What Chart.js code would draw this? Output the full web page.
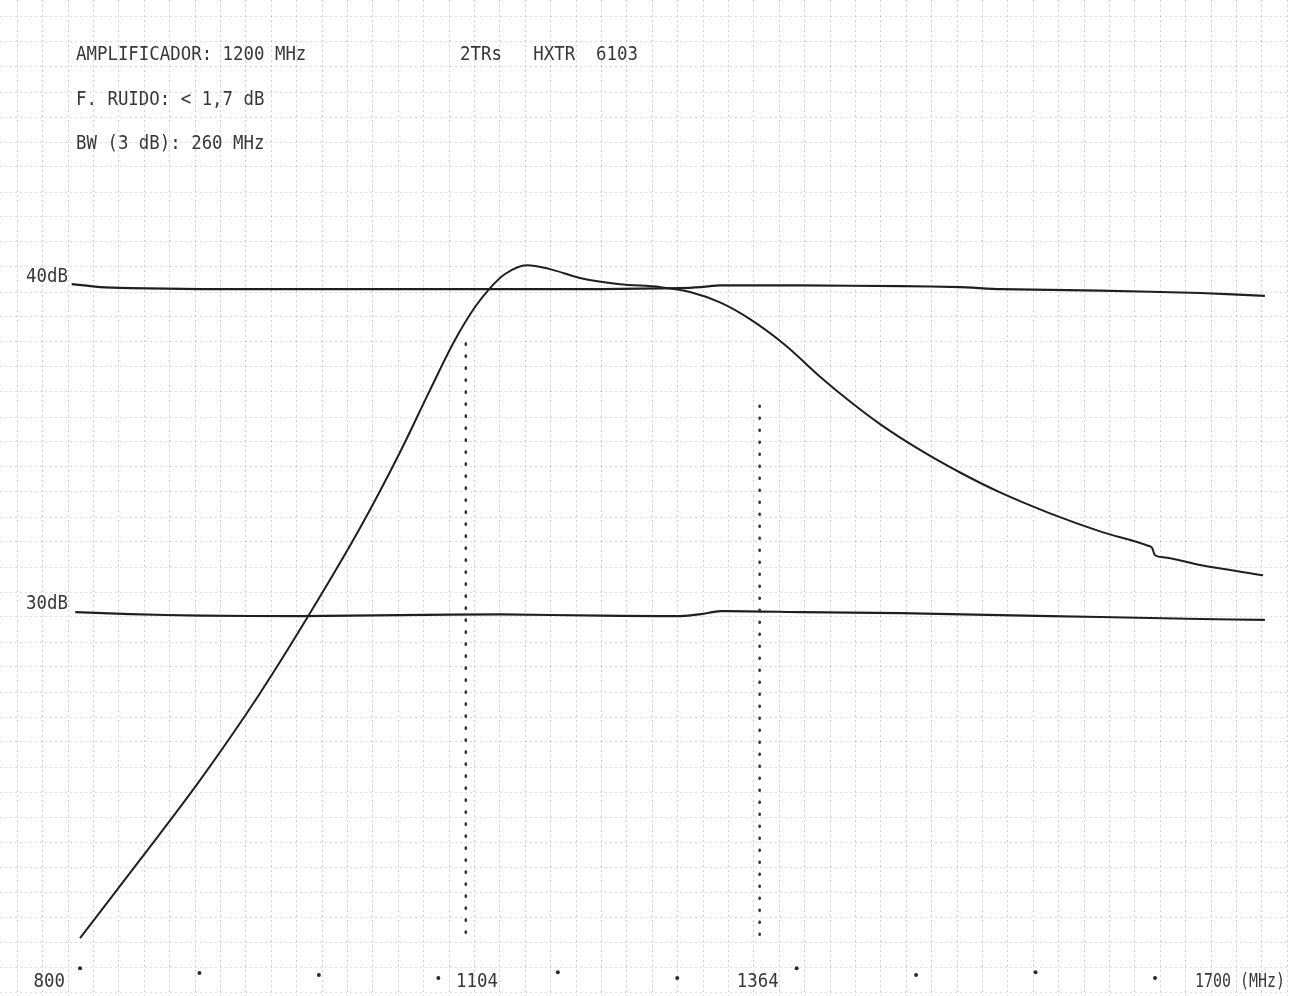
<!DOCTYPE html>
<html>
<head>
<meta charset="utf-8">
<title>Amplificador 1200 MHz</title>
<script src="https://cdn.jsdelivr.net/npm/chart.js@4.4.1/dist/chart.umd.min.js"></script>
<style>
  html, body { margin: 0; padding: 0; background: #fff; }
  canvas { display: block; }
</style>
</head>
<body>
<canvas id="response" width="1289" height="996"></canvas>
<script>
// gain curve of the amplifier (MHz, dB)
const responseMHz = [800, 850.2, 900.5, 950.7, 992.6, 1034.4, 1067.9, 1093, 1113.9, 1130.7, 1143.3, 1155.8, 1174.2, 1193.5, 1218.6, 1252.1, 1285.6, 1310.7, 1335.8, 1360.9, 1390.3, 1419.6, 1444.7, 1469.8, 1503.3, 1536.8, 1570.3, 1612.1, 1654, 1694.2, 1697.5, 1700, 1708.4, 1737.7, 1790.5];
const responseDb = [20.12, 22.51, 24.95, 27.61, 30.06, 32.66, 34.98, 36.88, 38.41, 39.42, 40.0, 40.43, 40.7, 40.58, 40.31, 40.12, 40.03, 39.88, 39.56, 39.05, 38.26, 37.29, 36.53, 35.84, 35.05, 34.36, 33.75, 33.11, 32.56, 32.12, 32.06, 31.83, 31.76, 31.53, 31.22];

// calibration traces at 40 dB and 30 dB
const ref40MHz = [793, 817, 842, 901, 985, 1068, 1152, 1236, 1303, 1320, 1336, 1403, 1487, 1537, 1570, 1654, 1738, 1792];
const ref40Db = [40.12, 40.03, 40.0, 39.97, 39.97, 39.97, 39.97, 39.97, 40.0, 40.03, 40.08, 40.08, 40.06, 40.03, 39.97, 39.92, 39.85, 39.76];
const ref30MHz = [796, 842, 901, 985, 1068, 1152, 1236, 1303, 1320, 1336, 1403, 1487, 1570, 1654, 1738, 1792];
const ref30Db = [30.09, 30.03, 29.98, 29.97, 30.0, 30.02, 29.98, 29.97, 30.03, 30.12, 30.09, 30.06, 30.0, 29.94, 29.88, 29.85];

// dotted 3 dB markers
const markerMHz = [1123, 1369];
const markerTopDb = [38.3, 36.4];
const markerBottomDb = [20.06, 20.21];

// frequency dots along the bottom
const scaleDotMHz = [800, 900, 1000, 1100, 1200, 1300, 1400, 1500, 1600, 1700];
const scaleDotDb = [19.2, 19.05, 18.99, 18.9, 19.08, 18.9, 19.2, 18.99, 19.08, 18.9];

const xTickLabels = ["800", "1104", "1364", "1700 (MHz)"];
const xTickValues = [800, 1104, 1364, 1700];
const levelLabels = ["40dB", "30dB"];
const levelValues = [40, 30];
const headerLines = ["AMPLIFICADOR: 1200 MHz", "F. RUIDO: < 1,7 dB", "BW (3 dB): 260 MHz"];
const headerRight = "2TRs   HXTR  6103";

const inkColor = "#1f1f1f";
const textColor = "#383838";
const paperGridX = "rgba(0, 0, 0, 0.19)";
const paperGridY = "rgba(0, 0, 0, 0.13)";

function toPoints(xs, ys) {
  return xs.map((x, i) => ({ x: x, y: ys[i] }));
}

function drawTypewriter(ctx, text, px, py, align, maxWidth) {
  ctx.save();
  ctx.translate(px, py);
  ctx.scale(1, 1.13);
  ctx.textAlign = align;
  if (maxWidth) {
    ctx.fillText(text, 0, 0, maxWidth);
  } else {
    ctx.fillText(text, 0, 0);
  }
  ctx.restore();
}

const sheetText = {
  id: "sheetText",
  afterDatasetsDraw(chart) {
    const { ctx, chartArea } = chart;
    const x = chart.scales.x;
    const y = chart.scales.y;
    ctx.save();
    ctx.fillStyle = textColor;
    ctx.font = '17.4px "DejaVu Sans Mono", "Liberation Mono", monospace';
    ctx.textBaseline = "middle";

    headerLines.forEach((line, i) => {
      drawTypewriter(ctx, line, chartArea.left + 76, chartArea.top + 55 + i * 44.5, "left");
    });
    drawTypewriter(ctx, headerRight, chartArea.left + 460, chartArea.top + 55, "left");

    levelLabels.forEach((label, i) => {
      drawTypewriter(ctx, label, 68, y.getPixelForValue(levelValues[i]) - 11, "right");
    });

    const labelY = y.getPixelForValue(18.78);
    drawTypewriter(ctx, xTickLabels[0], x.getPixelForValue(xTickValues[0]) - 15, labelY, "right");
    drawTypewriter(ctx, xTickLabels[1], x.getPixelForValue(xTickValues[1]) + 13, labelY, "left");
    drawTypewriter(ctx, xTickLabels[2], x.getPixelForValue(xTickValues[2]) + 4, labelY, "center");
    drawTypewriter(ctx, xTickLabels[3], x.getPixelForValue(xTickValues[3]) + 40, labelY, "left", 90);
    ctx.restore();
  },
};

function gridTicks(scale) {
  const ticks = [];
  for (let k = Math.ceil(scale.min); k <= scale.max; k++) {
    ticks.push({ value: k });
  }
  scale.ticks = ticks;
}

const markerSets = markerMHz.map((m, i) => ({
  data: [{ x: m, y: markerTopDb[i] }, { x: m, y: markerBottomDb[i] }],
  borderColor: "#333",
  borderWidth: 2.6,
  borderDash: [1, 11],
  borderCapStyle: "round",
  pointRadius: 0,
}));

new Chart(document.getElementById("response"), {
  type: "line",
  data: {
    datasets: [
      {
        data: toPoints(ref40MHz, ref40Db),
        borderColor: inkColor,
        borderWidth: 2.2,
        pointRadius: 0,
        tension: 0.2,
      },
      {
        data: toPoints(ref30MHz, ref30Db),
        borderColor: inkColor,
        borderWidth: 2.2,
        pointRadius: 0,
        tension: 0.2,
      },
      {
        data: toPoints(responseMHz, responseDb),
        borderColor: inkColor,
        borderWidth: 2,
        pointRadius: 0,
        cubicInterpolationMode: "monotone",
      },
      ...markerSets,
      {
        type: "scatter",
        data: toPoints(scaleDotMHz, scaleDotDb),
        backgroundColor: "#2a2a2a",
        borderWidth: 0,
        pointRadius: 2,
        showLine: false,
      },
    ],
  },
  options: {
    responsive: false,
    animation: false,
    devicePixelRatio: 1,
    layout: { padding: 0, autoPadding: false },
    plugins: { legend: { display: false }, tooltip: { enabled: false } },
    scales: {
      x: { type: "linear", min: 733, max: 1812.2, display: false },
      y: { type: "linear", min: 18.35, max: 48.81, display: false },
      paperX: {
        type: "linear",
        axis: "x",
        position: "bottom",
        min: -0.68,
        max: 50.07,
        afterBuildTicks: gridTicks,
        ticks: { display: false },
        grid: { drawTicks: false, color: paperGridX, lineWidth: 1 },
        border: { display: false, dash: [2, 3] },
      },
      paperY: {
        type: "linear",
        axis: "y",
        position: "left",
        min: -0.16,
        max: 39.68,
        afterBuildTicks: gridTicks,
        ticks: { display: false },
        grid: { drawTicks: false, color: paperGridY, lineWidth: 1 },
        border: { display: false, dash: [2, 3] },
      },
    },
  },
  plugins: [sheetText],
});
</script>
</body>
</html>
